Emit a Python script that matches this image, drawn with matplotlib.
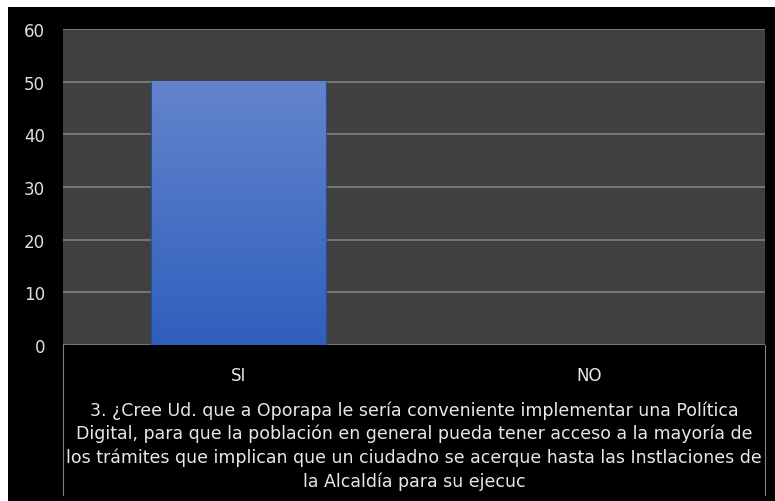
import matplotlib
matplotlib.use("Agg")
import matplotlib.pyplot as plt
import numpy as np
from matplotlib.colors import LinearSegmentedColormap

categorias = ["SI", "NO"]
valores = [50, 0]
ticks_y = [0, 10, 20, 30, 40, 50, 60]
titulo = ("3. ¿Cree Ud. que a Oporapa le sería conveniente implementar una Política\n"
          "Digital, para que la población en general pueda tener acceso a la mayoría de\n"
          "los trámites que implican que un ciudadno se acerque hasta las Instlaciones de\n"
          "la Alcaldía para su ejecuc")

plt.rcParams['font.family'] = ['DejaVu Sans']

W, H = 775, 502
fig = plt.figure(figsize=(W / 100, H / 100), dpi=100, facecolor="white")

# fondo negro del grafico
fondo = fig.add_axes([8 / W, 0, (W - 8) / W, (H - 8) / H])
fondo.set_facecolor("black")
fondo.set_xticks([])
fondo.set_yticks([])
for s in fondo.spines.values():
    s.set_visible(False)

x0, x1, ytop, ybot = 63, 765, 30, 346
ax = fig.add_axes([x0 / W, (H - ybot) / H, (x1 - x0) / W, (ybot - ytop) / H])
ax.set_facecolor("#404040")
ax.set_xlim(-0.5, 1.5)
ax.set_ylim(0, 60)
ax.set_yticks(ticks_y)
ax.yaxis.grid(True, color="#808080", linewidth=1.2)
ax.set_axisbelow(True)
for s in ax.spines.values():
    s.set_visible(False)
ax.tick_params(axis="y", length=0, pad=13, labelsize=12, labelcolor="#e0e0e0")
ax.tick_params(axis="x", length=0, pad=15, labelsize=12, labelcolor="#e8e8e8")

x = np.arange(len(categorias))
barras = ax.bar(x, valores, width=0.496, color="#4a72c8", zorder=2)
ax.set_xticks(x)
ax.set_xticklabels(categorias)

grad = LinearSegmentedColormap.from_list("g", ["#2f5fbd", "#6384cc"])
for b in barras:
    if b.get_height() > 0:
        ax.imshow(np.linspace(0, 1, 100).reshape(-1, 1), cmap=grad, aspect="auto",
                  origin="lower", zorder=3,
                  extent=[b.get_x(), b.get_x() + b.get_width(), 0, b.get_height()])
        ax.plot([b.get_x(), b.get_x()], [0, b.get_height()], color="#2a4f9a", lw=0.8, zorder=4)
        ax.plot([b.get_x() + b.get_width()] * 2, [0, b.get_height()], color="#2a4f9a", lw=0.8, zorder=4)
ax.set_xlim(-0.5, 1.5)
ax.set_ylim(0, 60)

# lineas verticales del eje de categorias
for xx in (x0, x1):
    fig.add_artist(plt.Line2D([xx / W, xx / W], [(H - ybot) / H, (H - 496) / H],
                              color="#808080", lw=0.8))

fig.text((x0 + x1) / 2 / W, (H - 446) / H, titulo, ha="center", va="center",
         color="#e8e8e8", fontsize=12.5, linespacing=1.35)

fig.savefig("out.png", dpi=100, facecolor="white")
